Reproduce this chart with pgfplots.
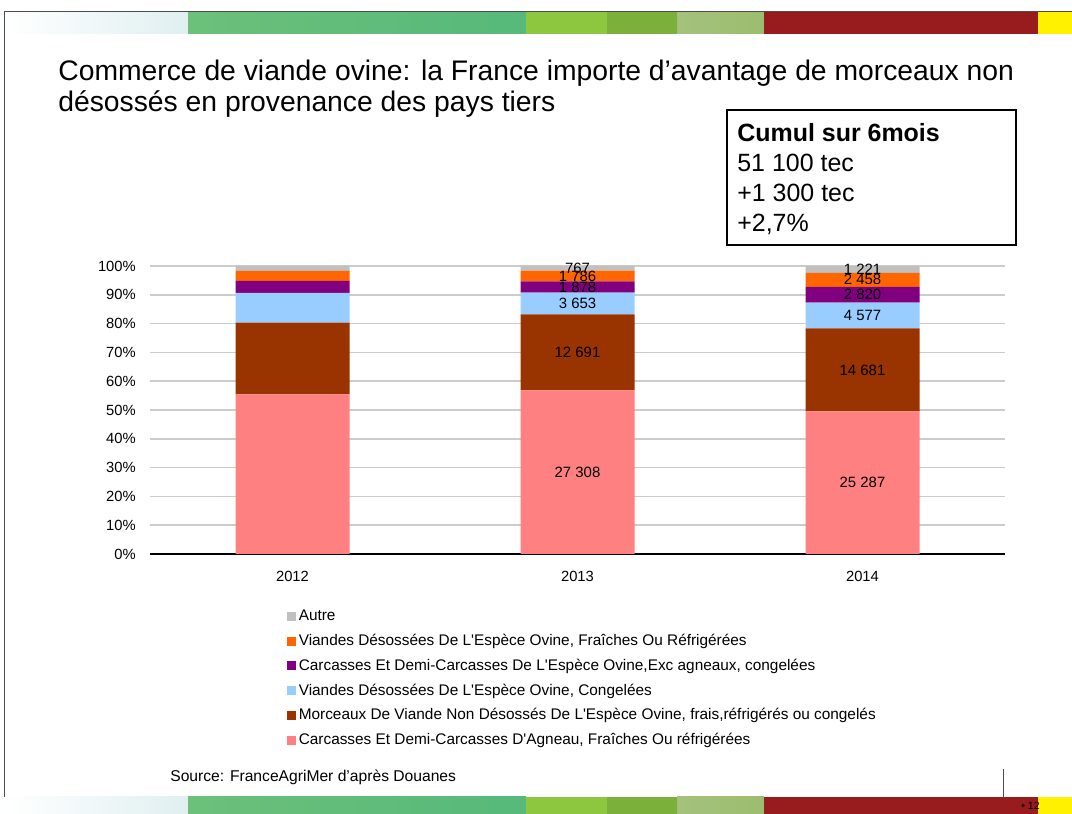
\documentclass[border=0pt]{standalone}
\usepackage{fontspec}
\setmainfont{Liberation Sans}
\usepackage{pgfplots}
\usepackage{pgfplotstable}
\pgfplotsset{compat=1.18}

\definecolor{cPink}{HTML}{FF8080}
\definecolor{cBrown}{HTML}{993300}
\definecolor{cBlue}{HTML}{99CCFF}
\definecolor{cPurple}{HTML}{800080}
\definecolor{cOrange}{HTML}{FF6600}
\definecolor{cGray}{HTML}{C0C0C0}
\definecolor{bPale}{HTML}{E0EFF1}
\definecolor{bGreenA}{HTML}{6CC07A}
\definecolor{bGreenB}{HTML}{56B97A}
\definecolor{bLime}{HTML}{8DC63F}
\definecolor{bMid}{HTML}{7BB03B}
\definecolor{bSageA}{HTML}{A5C17E}
\definecolor{bSageB}{HTML}{9BBE6E}
\definecolor{bRed}{HTML}{981B1E}
\definecolor{bYellow}{HTML}{FFF100}

% parts in % of each year's total (2012, 2013, 2014)
\pgfplotstableread{
x carcagneau morceaux desocong carcovine desofrais autre
0 55.4  24.9  10.4 4.1  3.5  1.7
1 56.79 26.39 7.60 3.91 3.71 1.60
2 49.54 28.76 8.97 5.52 4.82 2.39
}\parts

% volumes in tec, written at the middle of each segment
\pgfplotstableread[col sep=comma]{
x,y,lab
1,28.40,27 308
1,69.99,12 691
1,86.98,3 653
1,92.74,1 878
1,96.55,1 786
1,99.20,767
2,24.77,25 287
2,63.92,14 681
2,82.79,4 577
2,90.03,2 820
2,95.20,2 458
2,98.81,1 221
}\labels

\begin{document}
\begin{tikzpicture}
\useasboundingbox (0,0) rectangle (21.44,16.28);
% decorative bands (top and bottom)
\foreach \ya/\yb in {15.6/16.04, 0/0.34}{
  \shade[left color=white, right color=bPale] (0.08,\ya) rectangle (3.76,\yb);
  \shade[left color=bGreenA, right color=bGreenB] (3.76,\ya) rectangle (10.52,\yb);
  \fill[bLime] (10.52,\ya) rectangle (12.14,\yb);
  \fill[bMid] (12.14,\ya) rectangle (13.54,\yb);
  \shade[left color=bSageA, right color=bSageB] (13.54,\ya) rectangle (15.28,\yb);
  \fill[bRed] (15.28,\ya) rectangle (20.76,\yb);
  \fill[bYellow] (20.76,\ya) rectangle (21.44,\yb);
}
\draw[black!70, line width=0.4pt] (21.44,16.06) -- (0.08,16.06) -- (0.08,0.34);
\draw[black!70, line width=0.4pt] (20.06,0.34) -- (20.06,0.9);

\node[anchor=base west, inner sep=0, font=\fontsize{16.1}{19}\selectfont] at (1.16,14.66)
  {Commerce de viande ovine: la France importe d’avantage de morceaux non};
\node[anchor=base west, inner sep=0, font=\fontsize{16.1}{19}\selectfont] at (1.16,14.04)
  {désossés en provenance des pays tiers};

\draw[black, line width=0.6pt] (14.54,14.08) rectangle (20.32,11.38);
\node[anchor=base west, inner sep=0, font=\fontsize{14.2}{17}\selectfont\bfseries] at (14.74,13.44) {Cumul sur 6mois};
\node[anchor=base west, inner sep=0, font=\fontsize{14.2}{17}\selectfont] at (14.74,12.84) {51 100 tec};
\node[anchor=base west, inner sep=0, font=\fontsize{14.2}{17}\selectfont] at (14.74,12.24) {+1 300 tec};
\node[anchor=base west, inner sep=0, font=\fontsize{14.2}{17}\selectfont] at (14.74,11.64) {+2,7\%};

\node[anchor=base west, inner sep=0, font=\fontsize{8.9}{10}\selectfont] at (3.4,0.64) {Source: FranceAgriMer d’après Douanes};
\node[anchor=base east, inner sep=0, font=\fontsize{6}{7}\selectfont] at (20.8,0.08) {• 12};

\pgfplotsset{chartbox/.style={
  at={(3cm,5.2cm)}, anchor=south west,
  scale only axis, width=17.1cm, height=5.76cm,
  xmin=-0.5, xmax=2.5, ymin=0, ymax=100}}

\begin{axis}[
  chartbox,
  ybar stacked, bar width=0.4,
  xtick={0,1,2}, xticklabels={2012,2013,2014},
  ytick={0,10,...,100},
  yticklabels={0\%,10\%,20\%,30\%,40\%,50\%,60\%,70\%,80\%,90\%,100\%},
  ymajorgrids, grid style={draw=black!20, line width=1pt},
  axis x line*=bottom, axis y line*=left,
  y axis line style={draw=none},
  ytick style={draw=none}, xtick style={draw=none},
  x axis line style={line width=0.8pt},
  extra x ticks={-0.5,0.5,1.5,2.5}, extra x tick labels={},
  extra x tick style={tick style={draw=black, line width=0.6pt}, major tick length=0.1cm, tick align=outside, grid=none},
  tick label style={font=\fontsize{8.4}{10}\selectfont},
  yticklabel style={xshift=-0.16cm},
  xticklabel style={yshift=-0.22cm},
  legend image code/.code={\fill[#1] (0cm,-0.09cm) rectangle (0.18cm,0.09cm);},
  reverse legend,
  legend cell align=left,
  legend style={at={(0.160,-0.184)}, anchor=north west, draw=none, fill=none,
    font=\fontsize{8.75}{10}\selectfont, row sep=3.2pt, inner sep=0pt,
    nodes={inner sep=1.5pt}},
]
\addplot[fill=cPink, draw=none] table[x=x, y=carcagneau] {\parts};
\addlegendentry{Carcasses Et Demi-Carcasses D\textquotesingle Agneau, Fraîches Ou réfrigérées}
\addplot[fill=cBrown, draw=none] table[x=x, y=morceaux] {\parts};
\addlegendentry{Morceaux De Viande Non Désossés De L\textquotesingle Espèce Ovine, frais,réfrigérés ou congelés}
\addplot[fill=cBlue, draw=none] table[x=x, y=desocong] {\parts};
\addlegendentry{Viandes Désossées De L\textquotesingle Espèce Ovine, Congelées}
\addplot[fill=cPurple, draw=none] table[x=x, y=carcovine] {\parts};
\addlegendentry{Carcasses Et Demi-Carcasses De L\textquotesingle Espèce Ovine,Exc agneaux, congelées}
\addplot[fill=cOrange, draw=none] table[x=x, y=desofrais] {\parts};
\addlegendentry{Viandes Désossées De L\textquotesingle Espèce Ovine, Fraîches Ou Réfrigérées}
\addplot[fill=cGray, draw=none] table[x=x, y=autre] {\parts};
\addlegendentry{Autre}
\end{axis}

\begin{axis}[
  chartbox, hide axis,
  point meta=explicit symbolic,
  nodes near coords,
  nodes near coords align=center,
  every node near coord/.append style={anchor=center, font=\fontsize{8.5}{10}\selectfont, inner sep=0pt},
]
\addplot[only marks, mark=none, draw=none] table[x=x, y=y, meta=lab] {\labels};
\end{axis}
\end{tikzpicture}
\end{document}
